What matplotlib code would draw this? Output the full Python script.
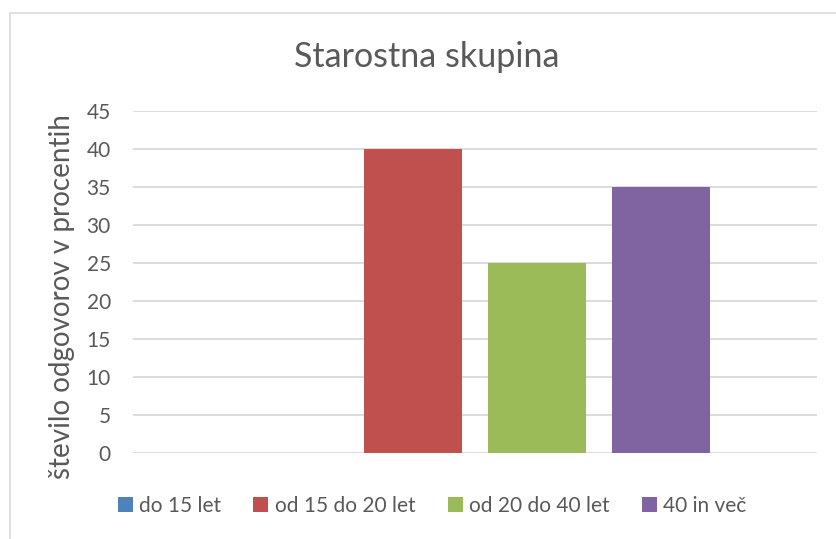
import numpy as np
import matplotlib.pyplot as plt
from matplotlib.lines import Line2D

plt.rcParams['font.family'] = ['Lato', 'DejaVu Sans']

# data
groups = ['do 15 let', 'od 15 do 20 let', 'od 20 do 40 let', '40 in več']
values = [0, 40, 25, 35]
colors = ['#4F81BD', '#C0504D', '#9BBB59', '#8064A2']
yticks = [0, 5, 10, 15, 20, 25, 30, 35, 40, 45]

txt = '#595959'
W, H = 836, 539

fig = plt.figure(figsize=(W / 100, H / 100), dpi=100)
ax = fig.add_axes([133 / W, 1 - 453 / H, (817 - 133) / W, (453 - 111) / H])

pos = np.arange(len(groups)) - 1.5
for p, v, c, g in zip(pos, values, colors, groups):
    ax.bar(p, v, width=98 / 124, color=c, label=g, zorder=3)

ax.set_xlim(-1.5 - 156 / 124, 1.5 + 156 / 124)
ax.set_ylim(0, 45)
ax.set_yticks(yticks)
ax.set_xticks([])
ax.tick_params(axis='y', length=0, pad=16, labelsize=15, labelcolor=txt)
ax.grid(axis='y', color='#D9D9D9', lw=1.3, zorder=0)
for s in ax.spines.values():
    s.set_visible(False)

fig.text(427 / W, 1 - 67 / H, 'Starostna skupina', ha='center', va='baseline',
         fontsize=24.5, color=txt)
fig.text(62 / W, 1 - 297 / H, 'število odgovorov v procentih', rotation=90,
         ha='center', va='center', fontsize=20, color=txt)

fig.legend(loc='center', bbox_to_anchor=(432 / W, 1 - 506 / H), ncol=4,
           frameon=False, fontsize=15, labelcolor=txt,
           handlelength=0.72, handleheight=0.72, handletextpad=0.3,
           columnspacing=1.55, borderaxespad=0)

# chart area border (left and top)
fig.add_artist(Line2D([10 / W, 10 / W, 1], [0.002, 1 - 12.5 / H, 1 - 12.5 / H],
                      color='#D9D9D9', lw=1.2))

fig.savefig('out.png', dpi=100)
